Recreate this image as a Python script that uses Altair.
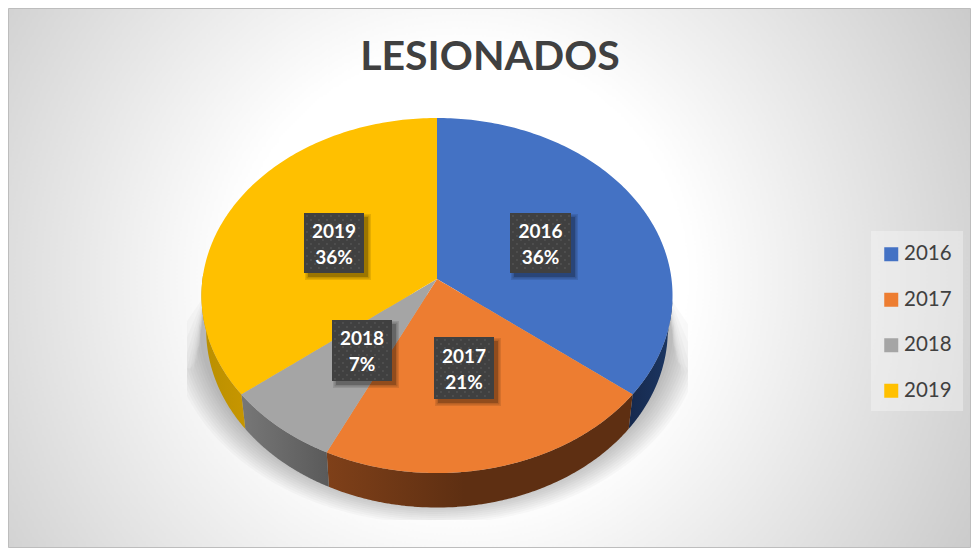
import math
import altair as alt
import pandas as pd

years = ["2016", "2017", "2018", "2019"]
shares = [35.6, 21.49, 7.31, 35.6]
pct_labels = ["36%", "21%", "7%", "36%"]
top_colors = ["#4472C4", "#ED7D31", "#A5A5A5", "#FFC000"]
side_stops = [
    [("#16294D", 0), ("#1C3763", 1)],
    [("#7F4019", 0), ("#5E2F12", .45), ("#5E2F12", 1)],
    [("#777777", 0), ("#5A5A5A", 1)],
    [("#B98F00", 0), ("#C79600", 1)],
]
label_x = [540.5, 464, 362, 334]
label_y = [243, 368, 350.5, 243]
label_w = [61, 60, 60, 60]
label_h = [60, 62, 61, 60]
title_text = "LESIONADOS"

# image frame used by the position scales
X0, X1, Y0, Y1 = 8, 971, 8, 548
# disc projection
APEX_X, APEX_Y = 437, 279
PX, PY, PERSP = 234.5, 176, 0.093
DEPTH, SHRINK, CX = 34.5, 0.98, 436.5


def rim(deg):
    t = math.radians(deg)
    u, v = math.sin(t), -math.cos(t)
    w = 1 - PERSP * v
    return APEX_X + PX * u / w, APEX_Y + PY * v / w


def low(p):
    return CX + (p[0] - CX) * SHRINK, p[1] + DEPTH


def steps(a, b, n=80):
    return [a + (b - a) * i / n for i in range(n + 1)]


def spans(poly):
    xs_ = sorted({round(p[0], 3) for p in poly})
    rows = []
    for x in xs_:
        ys_ = []
        for (a, b), (c, d) in zip(poly, poly[1:] + poly[:1]):
            lo, hi = min(a, c), max(a, c)
            if lo - 1e-3 <= x <= hi + 1e-3:
                if abs(c - a) < 1e-6:
                    ys_ += [b, d]
                else:
                    f = min(1, max(0, (x - a) / (c - a)))
                    ys_.append(b + (d - b) * f)
        rows.append({"x": x, "y": min(ys_), "y2": max(ys_)})
    return rows


xs = alt.Scale(domain=[X0, X1], range=[0, X1 - X0])
ys = alt.Scale(domain=[Y0, Y1], range=[0, Y1 - Y0])
W, H = X1 - X0, Y1 - Y0


def area(rows, **mark):
    return alt.Chart(pd.DataFrame(rows)).mark_area(interpolate="linear", **mark).encode(
        x=alt.X("x:Q", scale=xs, axis=None),
        y=alt.Y("y:Q", scale=ys, axis=None),
        y2="y2:Q",
    )


layers = []

# background
layers.append(
    alt.Chart(pd.DataFrame({"a": [1]})).mark_rect(
        color=alt.RadialGradient(
            gradient="radial",
            stops=[alt.GradientStop(color="#FFFFFF", offset=0.34),
                   alt.GradientStop(color="#BEBEBE", offset=1)],
            x1=.47, y1=.5, r1=0, x2=.47, y2=.5, r2=.69,
        ),
        stroke="#BDBDBD", strokeWidth=1,
    ).encode(x=alt.value(0.5), x2=alt.value(W - 0.5), y=alt.value(0.5), y2=alt.value(H - 0.5))
)

# soft shadow on the ground
SH_X0, SH_X1, SH_Y1 = 187, 688, 520
for k in range(12):
    a, b, cy = 238 + k * 2.6, 180 + k * 1.6, 322 + k * 0.4
    slope = 1.5 + 0.9 * (11 - k)
    rows = []
    for i in range(161):
        x = max(SH_X0, CX - a) + (min(SH_X1, CX + a) - max(SH_X0, CX - a)) * i / 160
        q = max(0, 1 - ((x - CX) / a) ** 2) ** .5
        y2 = min(SH_Y1, cy + b * q)
        rows.append({"x": x, "y": min(y2, 295 + slope * max(0, abs(x - CX) - 232)), "y2": y2})
    layers.append(area(rows, color="#000000", opacity=0.022))

# cumulated angles
total = sum(shares)
edges = [0.0]
for s in shares:
    edges.append(edges[-1] + s / total * 360)

# side walls
for i in range(4):
    a, b = max(edges[i], 97), min(edges[i + 1], 272)
    arc = [rim(d) for d in steps(a, b)]
    poly = arc + [low(p) for p in reversed(arc)]
    layers.append(area(spans(poly), color=alt.LinearGradient(
        gradient="linear",
        stops=[alt.GradientStop(color=c, offset=o) for c, o in side_stops[i]],
        x1=0, y1=0, x2=1, y2=0)))

# top wedges
top_rows = []
for i, yr in enumerate(years):
    poly = [(APEX_X, APEX_Y)] + [rim(d) for d in steps(edges[i], edges[i + 1], 140)]
    for r in spans(poly):
        r["year"] = yr
        top_rows.append(r)
top = alt.Chart(pd.DataFrame(top_rows)).mark_area(interpolate="linear").encode(
    x=alt.X("x:Q", scale=xs, axis=None),
    y=alt.Y("y:Q", scale=ys, axis=None),
    y2="y2:Q",
    color=alt.Color("year:N", scale=alt.Scale(domain=years, range=top_colors), legend=alt.Legend(
        title=None, orient="none", legendX=873, legendY=236, symbolType="square", symbolSize=196,
        symbolStrokeWidth=0, labelFont="Lato", labelFontSize=20.5, labelColor="#404040",
        rowPadding=24.5, padding=0, labelOffset=2.5,
        symbolOpacity=1,
    )),
)
layers.append(top)

# legend panel
layers.append(alt.Chart(pd.DataFrame({"x": [871], "x2": [963], "y": [231], "y2": [411]})).mark_rect(
    color="#FFFFFF", opacity=0.32).encode(
    x=alt.X("x:Q", scale=xs, axis=None), x2="x2:Q",
    y=alt.Y("y:Q", scale=ys, axis=None), y2="y2:Q"))

# data label boxes
boxes = pd.DataFrame({
    "x": [cx - w / 2 for cx, w in zip(label_x, label_w)],
    "x2": [cx + w / 2 for cx, w in zip(label_x, label_w)],
    "y": [cy - h / 2 for cy, h in zip(label_y, label_h)],
    "y2": [cy + h / 2 for cy, h in zip(label_y, label_h)],
})
for off, grow, op in [(4, 3, .10), (4, 1.5, .14), (4, 0, .2)]:
    s = boxes.copy()
    s["x"] += off - grow
    s["x2"] += off + grow
    s["y"] += off - grow
    s["y2"] += off + grow
    layers.append(alt.Chart(s).mark_rect(color="#000000", opacity=op).encode(
        x=alt.X("x:Q", scale=xs, axis=None), x2="x2:Q",
        y=alt.Y("y:Q", scale=ys, axis=None), y2="y2:Q"))
layers.append(alt.Chart(boxes).mark_rect(color="#404040").encode(
    x=alt.X("x:Q", scale=xs, axis=None), x2="x2:Q",
    y=alt.Y("y:Q", scale=ys, axis=None), y2="y2:Q"))

dots = []
for _, b in boxes.iterrows():
    row = 0
    y = b["y"] + 3
    while y < b["y2"] - 1:
        x = b["x"] + (3 if row % 2 == 0 else 7)
        while x < b["x2"] - 1:
            dots.append({"x": x, "y": y})
            x += 8
        y += 4
        row += 1
layers.append(alt.Chart(pd.DataFrame(dots)).mark_point(
    shape="square", filled=True, size=3, color="#565656", opacity=1).encode(
    x=alt.X("x:Q", scale=xs, axis=None), y=alt.Y("y:Q", scale=ys, axis=None)))

texts = []
for i in range(4):
    texts.append({"x": label_x[i], "y": label_y[i] - 11.5, "t": years[i]})
    texts.append({"x": label_x[i], "y": label_y[i] + 14.5, "t": pct_labels[i]})
layers.append(alt.Chart(pd.DataFrame(texts)).mark_text(
    font="Lato", fontWeight="bold", fontSize=19, color="#FFFFFF", baseline="middle", align="center",
).encode(x=alt.X("x:Q", scale=xs, axis=None), y=alt.Y("y:Q", scale=ys, axis=None), text="t:N"))

layers.append(alt.Chart(pd.DataFrame({"x": [490], "y": [70], "t": [title_text]})).mark_text(
    font="Lato", fontWeight="bold", fontSize=41, color="#404040", baseline="alphabetic", align="center",
).encode(x=alt.X("x:Q", scale=xs, axis=None), y=alt.Y("y:Q", scale=ys, axis=None), text="t:N"))

chart = alt.layer(*layers).properties(
    width=W, height=H, padding=0,
    autosize=alt.AutoSizeParams(type="none"),
    background="#FFFFFF",
).configure_view(stroke=None)

chart.save("out.html", embed_options={"renderer": "svg", "actions": False})
